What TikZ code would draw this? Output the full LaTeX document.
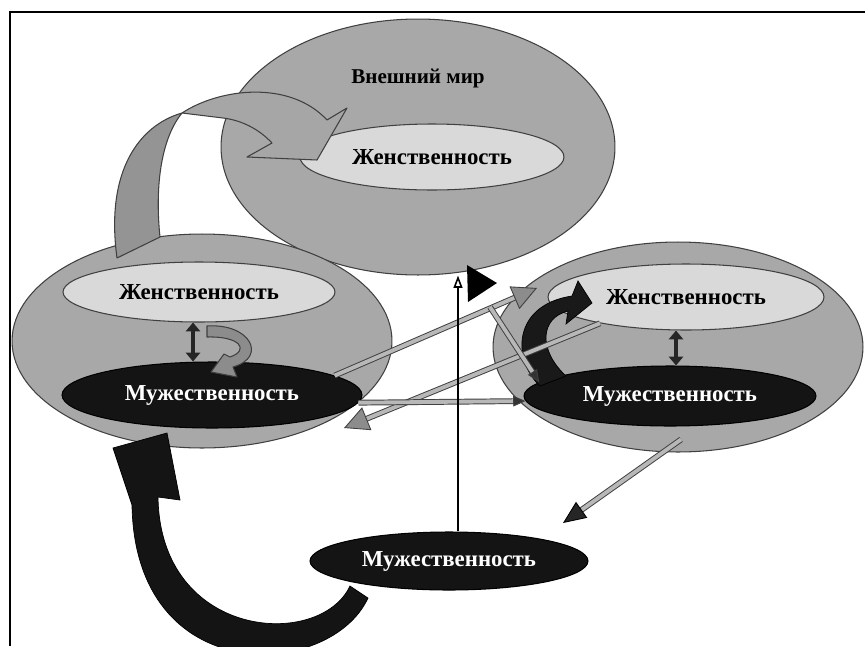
\documentclass[tikz,border=0pt]{standalone}
\usepackage{fontspec}
\setmainfont{Liberation Serif}
\usetikzlibrary{shapes.geometric, arrows.meta}

\definecolor{outergray}{gray}{0.66}
\definecolor{femgray}{gray}{0.85}
\definecolor{mascblack}{gray}{0.08}
\definecolor{edge}{gray}{0.25}
\definecolor{bandgray}{gray}{0.72}
\definecolor{headgray}{gray}{0.55}
\definecolor{armdark}{gray}{0.58}
\definecolor{armlight}{gray}{0.65}

\begin{document}
\begin{tikzpicture}[x=0.02cm, y=-0.02cm]
\tikzstyle{every node}+=[inner sep=0pt]
\tikzstyle{outer}=[ellipse, draw=edge, fill=outergray, line width=0.6pt]
\tikzstyle{fem}=[ellipse, draw=edge, fill=femgray, line width=0.6pt, font=\fontsize{13}{15}\selectfont\bfseries]
\tikzstyle{masc}=[ellipse, draw=black, fill=mascblack, text=white, line width=0.6pt, font=\fontsize{13}{15}\selectfont\bfseries]
\tikzstyle{dline}=[draw=edge, double=bandgray, double distance=2.2pt, line width=0.55pt]
\tikzstyle{bighead}=[bandgray, line width=0.5pt, -{Triangle[length=14pt, width=14pt, color=edge, fill=headgray]}]
\tikzstyle{smallhead}=[bandgray, line width=0.5pt, -{Triangle[length=7pt, width=6pt, color=edge, fill=black!80]}]
\tikzstyle{darkhead}=[bandgray, line width=0.5pt, -{Triangle[length=13pt, width=11pt, color=black, fill=black!85]}]
\tikzstyle{twoway}=[line width=2.4pt, black!85, {Triangle[length=5pt, width=8pt]}-{Triangle[length=5pt, width=8pt]}]
\tikzstyle{block}=[draw=edge, line width=0.6pt, line join=round]

\useasboundingbox (0,0) rectangle (865,646);
\draw[line width=1.1pt] (10,646) -- (10,12) -- (865,12);

% ellipses
\node[outer, minimum width=7.88cm, minimum height=5.12cm] (world) at (418,147) {};
\node[font=\fontsize{12}{14}\selectfont\bfseries] (wtitle) at (418,78) {Внешний мир};
\node[fem, minimum width=5.28cm, minimum height=1.32cm] (wfem) at (432,157) {Женственность};
\node[outer, minimum width=7.6cm, minimum height=4.28cm] (lout) at (202,341) {};
\node[fem, minimum width=5.44cm, minimum height=1.2cm] (lfem) at (199,292) {Женственность};
\node[masc, minimum width=6cm, minimum height=1.32cm] (lmasc) at (212,395) {Мужественность};
\node[outer, minimum width=7.4cm, minimum height=4.2cm] (rout) at (678,347) {};
\node[fem, minimum width=5.52cm, minimum height=1.32cm] (rfem) at (686,297) {Женственность};
\node[masc, minimum width=5.84cm, minimum height=1.2cm] (rmasc) at (670,396) {Мужественность};
\node[masc, minimum width=5.56cm, minimum height=1.16cm] (bmasc) at (449,561) {Мужественность};

% big curved arrow into the outer world
\fill[armdark, block] (117,258) -- (160,237) .. controls (155,190) and (160,140) .. (182,113)
  .. controls (140,125) and (105,170) .. (117,258) -- cycle;
\fill[armlight, block] (182,113) .. controls (220,88) and (290,80) .. (327,120) -- (347,108)
  -- (317,160) -- (247,157) -- (272,143) .. controls (258,128) and (240,120) .. (223,118) -- cycle;

% small turn arrow, left
\fill[headgray, block] (207,326) .. controls (250,323) and (268,357) .. (233,367) -- (237,377)
  -- (211,372) -- (224,354) -- (230,357) .. controls (250,350) and (240,336) .. (207,337) -- cycle;

% black turn arrow, right
\fill[black!90, draw=black] (540,386) .. controls (512,360) and (512,305) .. (572,296) -- (578,281)
  -- (592,303) -- (566,324) -- (568,311) .. controls (540,318) and (538,350) .. (566,376) -- cycle;

% black arrow from below
\fill[black!92, draw=black] (368,598) .. controls (330,680) and (135,690) .. (132,505) -- (113,448)
  -- (167,433) -- (180,500) -- (158,497) .. controls (160,640) and (320,650) .. (350,586) -- cycle;

% lone triangle
\fill[black] (467,265) -- (497,283) -- (468,302) -- cycle;

% two-way arrows
\draw[twoway] ([xshift=-0.12cm]lfem.south) -- ([xshift=-0.12cm]lfem.south |- lmasc.north);
\draw[twoway] ([xshift=-0.2cm]rfem.south) -- ([xshift=-0.2cm]rfem.south |- rmasc.north);

% double-line connectors
\coordinate (c1end) at (537,288);
\coordinate (c2end) at (344,428);
\coordinate (c4start) at (490,307);
\coordinate (c5end) at (563,523);
\draw[dline, shorten >=13pt] (lmasc.9) -- (c1end);
\draw[bighead] (lmasc.9) -- (c1end);
\draw[dline, shorten >=13pt] (rfem.197) -- (c2end);
\draw[bighead] (rfem.197) -- (c2end);
\draw[dline, shorten >=6pt] (lmasc.-3) -- (rmasc.182);
\draw[smallhead] (lmasc.-3) -- (rmasc.182);
\draw[dline, shorten >=6pt] (c4start) -- (rmasc.174);
\draw[smallhead] (c4start) -- (rmasc.174);
\draw[dline, shorten >=12pt] ([yshift=-0.26cm]rmasc.-70) -- (c5end);
\draw[darkhead] ([yshift=-0.26cm]rmasc.-70) -- (c5end);

% vertical arrow
\draw[line width=0.9pt, -{Triangle[open, length=7pt, width=5pt]}] ([xshift=0.18cm]bmasc.north) -- ([xshift=0.18cm]bmasc.north |- world.south);
\end{tikzpicture}
\end{document}
